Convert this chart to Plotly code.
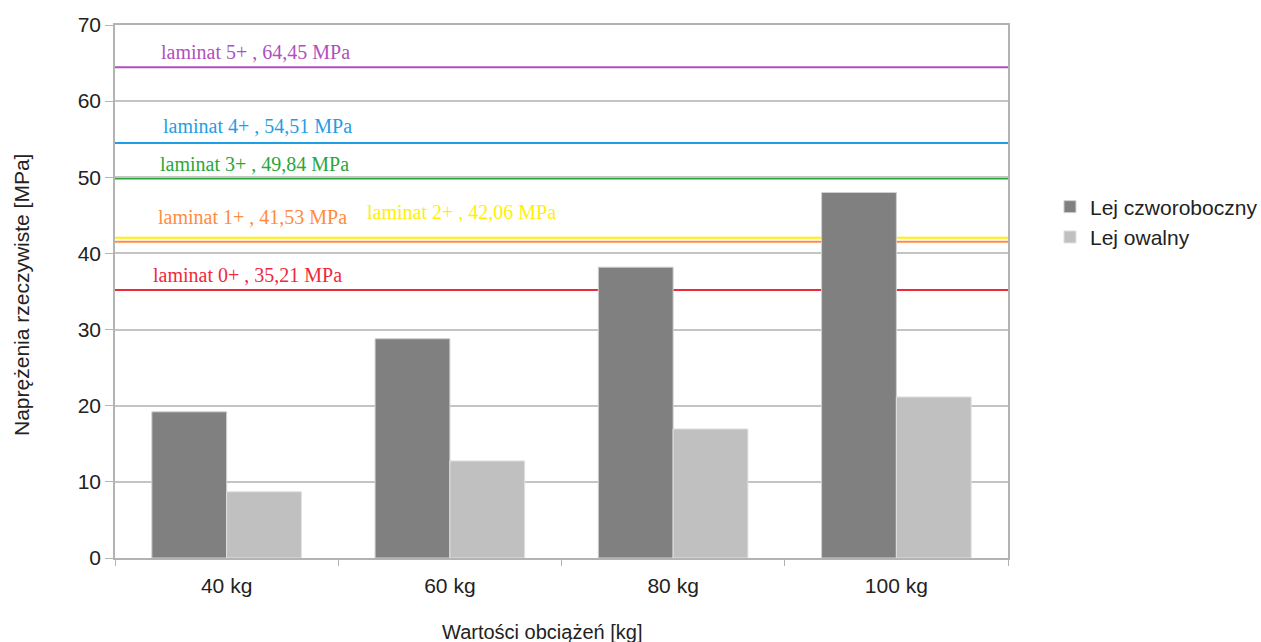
import plotly.graph_objects as go

# Load categories and measured stresses
categories = ["40 kg", "60 kg", "80 kg", "100 kg"]
lej_czworoboczny = [19.2, 28.8, 38.2, 48.0]
lej_owalny = [8.7, 12.75, 16.95, 21.15]

# Reference laminate strengths
laminat_names = ["laminat 0+", "laminat 1+", "laminat 2+", "laminat 3+", "laminat 4+", "laminat 5+"]
laminat_values = [35.21, 41.53, 42.06, 49.84, 54.51, 64.45]
laminat_labels = ["35,21", "41,53", "42,06", "49,84", "54,51", "64,45"]

# Styling for the reference lines and their captions
laminat_colors = ["#ee2a3a", "#ff8c40", "#fff000", "#2aa63a", "#1e9ee6", "#b050c0"]
label_x = [0.0403, 0.0459, 0.2799, 0.0481, 0.0515, 0.0492]
label_shift = [15, 25, 26, 15, 17, 15]

fig = go.Figure()
fig.add_trace(go.Bar(
    x=categories, y=lej_czworoboczny, name="Lej czworoboczny",
    marker=dict(color="#808080", line=dict(color="#d0d0d0", width=1)),
))
fig.add_trace(go.Bar(
    x=categories, y=lej_owalny, name="Lej owalny",
    marker=dict(color="#c0c0c0", line=dict(color="#e0e0e0", width=1)),
))

shapes = []
annotations = []
for name, val, lab, col, lx, ls in zip(laminat_names, laminat_values, laminat_labels,
                                       laminat_colors, label_x, label_shift):
    shapes.append(dict(type="line", xref="paper", yref="y", x0=0, x1=1, y0=val, y1=val,
                       line=dict(color=col, width=2), layer="between"))
    annotations.append(dict(xref="paper", yref="y", x=lx, y=val, xanchor="left",
                            yanchor="middle", yshift=ls, showarrow=False,
                            text=f"{name} , {lab} MPa",
                            font=dict(family="Liberation Serif", size=20, color=col)))

# Axis titles
annotations.append(dict(xref="paper", yref="paper", x=(542 - 115) / 893, y=0,
                        xanchor="center", yanchor="middle", yshift=-74, showarrow=False,
                        text="Wartości obciążeń [kg]",
                        font=dict(family="Liberation Sans", size=20, color="#222222")))
annotations.append(dict(xref="paper", yref="paper", x=(21 - 115) / 893, y=(558 - 295) / 533,
                        xanchor="center", yanchor="middle", textangle=-90, showarrow=False,
                        text="Naprężenia rzeczywiste [MPa]",
                        font=dict(family="Liberation Sans", size=21, color="#222222")))

fig.update_layout(
    width=1261, height=642,
    margin=dict(l=115, r=253, t=25, b=84, autoexpand=False),
    paper_bgcolor="white", plot_bgcolor="white",
    barmode="group", bargap=0.33, bargroupgap=0,
    font=dict(family="Liberation Sans", color="#222222"),
    showlegend=True,
    legend=dict(x=1.047, y=(558 - 222) / 533, xanchor="left", yanchor="middle",
                font=dict(size=21, color="#222222"), tracegroupgap=0,
                bgcolor="rgba(0,0,0,0)"),
    shapes=shapes,
    annotations=annotations,
)
fig.update_xaxes(
    showgrid=False, showline=True, linecolor="#b3b3b3", linewidth=1.5, mirror=True,
    ticks="outside", tickson="boundaries", ticklen=6, tickcolor="#b3b3b3",
    ticklabelstandoff=8,
    tickfont=dict(size=21, color="#222222"),
)
fig.update_yaxes(
    range=[0, 70], dtick=10, showgrid=True, gridcolor="#c4c4c4", gridwidth=1.5,
    showline=True, linecolor="#b3b3b3", linewidth=1.5, mirror=True,
    ticks="outside", ticklen=8, tickcolor="#b3b3b3",
    tickfont=dict(size=21, color="#222222"),
    zeroline=False,
)

fig.write_html("out.html")
